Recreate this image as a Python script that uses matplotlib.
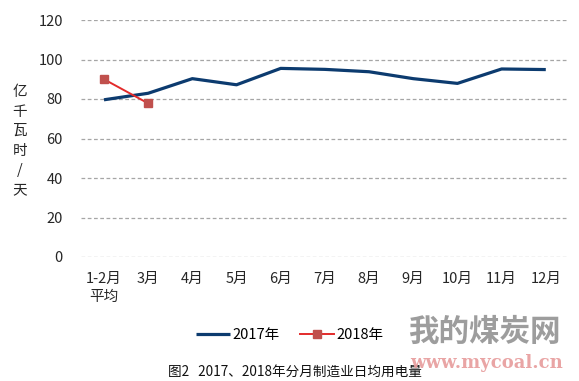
import matplotlib
matplotlib.use("Agg")
import matplotlib.pyplot as plt

plt.rcParams['font.family'] = ['Noto Sans CJK SC', 'DejaVu Sans']

categories = ["1-2月\n平均", "3月", "4月", "5月", "6月", "7月", "8月", "9月", "10月", "11月", "12月"]
values_2017 = [79.6, 82.9, 90.3, 87.2, 95.5, 95.0, 93.8, 90.3, 87.9, 95.2, 94.9]
values_2018 = [90.0, 77.8]
yticks = [0, 20, 40, 60, 80, 100, 120]
ylabel_chars = ["亿", "千", "瓦", "时", "/", "天"]

fig = plt.figure(figsize=(5.79, 3.81), dpi=100)
ax = fig.add_axes([81/579, 1-257/381, (567-81)/579, (257-20)/381])

x = list(range(len(categories)))
ax.plot(x, values_2017, color="#0c3b6f", lw=2.3, solid_capstyle='butt', label="2017年", zorder=3)
ax.plot(x[:len(values_2018)], values_2018, color="#e32b2b", lw=1.4, marker="s",
        markersize=6, markerfacecolor="#c0504d", markeredgecolor="#c0504d", label="2018年", zorder=4)

ax.set_ylim(0, 120)
ax.set_xlim(-0.52, len(categories) - 0.52)
ax.set_yticks(yticks)
ax.set_xticks(x)
ax.set_xticklabels(categories, multialignment='center', va='top', linespacing=1.35)
ax.yaxis.grid(True, ls=(0, (3, 2)), color="#a6a6a6", lw=0.9)
ax.set_axisbelow(True)
for s in ax.spines.values():
    s.set_visible(False)
ax.tick_params(axis='x', length=0, labelsize=10.5, colors="#262626", pad=11)
ax.tick_params(axis='y', length=0, labelsize=10.5, colors="#262626", pad=13)

fig.text(20/579, 1-141/381, "\n".join(ylabel_chars), ha='center', va='center',
         fontsize=10.5, color="#262626", linespacing=1.5)

leg = fig.legend(loc='center', bbox_to_anchor=(290/579, 1-335/381), ncol=2, frameon=False,
                 fontsize=10.5, handlelength=2.3, columnspacing=1.4, handletextpad=0.2)

fig.text(295/579, 1-372/381, "图2   2017、2018年分月制造业日均用电量", ha='center', va='center',
         fontsize=9.8, color="#111111")

# watermark
fig.text(484/579, 1-332/381, "我的煤炭网", ha='center', va='center', fontsize=22,
         color="#8c8c8c", alpha=0.85, fontweight='bold')
fig.text(486/579, 1-363/381, "www.mycoal.cn", ha='center', va='center', fontsize=13,
         color="#e8a0a0", alpha=0.95, fontweight='bold', family=['DejaVu Serif'])

fig.savefig("out.png", dpi=100)
